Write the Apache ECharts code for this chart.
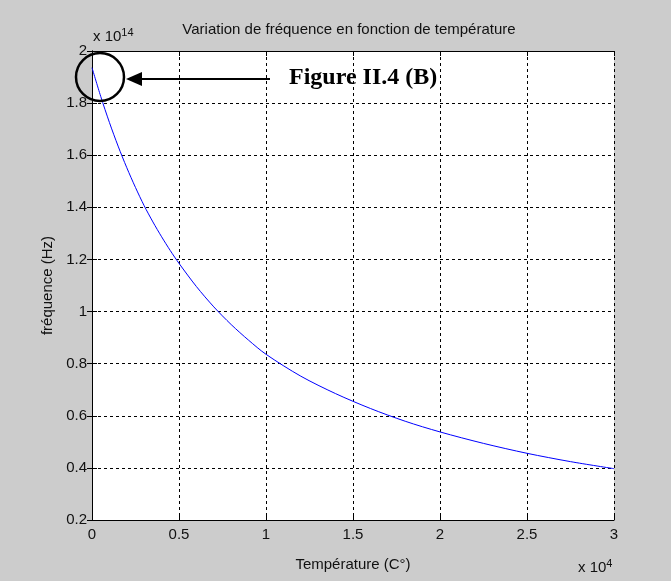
<!DOCTYPE html>
<html lang="fr" style="height: 100%">
<head>
    <meta charset="UTF-8">
    <title>Variation de fréquence en fonction de température</title>
    <script src="https://cdn.jsdelivr.net/npm/echarts@6/dist/echarts.min.js"></script>
</head>
<body style="height: 100%; margin: 0; background: #cccccc">
<div id="container" style="width: 671px; height: 581px"></div>
<script type="text/javascript">
    // température (x 10^4) et fréquence (x 10^14 Hz)
    var temperature = [0, 0.05, 0.1, 0.15, 0.2, 0.25, 0.3, 0.35, 0.4, 0.45, 0.5, 0.6, 0.7, 0.8, 0.9, 1.0, 1.2, 1.4, 1.6, 1.8, 2.0, 2.25, 2.5, 2.75, 3.0];
    var frequence = [1.936, 1.826, 1.726, 1.635, 1.552, 1.476, 1.406, 1.344, 1.287, 1.234, 1.185, 1.096, 1.018, 0.95, 0.89, 0.836, 0.752, 0.685, 0.628, 0.579, 0.538, 0.494, 0.456, 0.424, 0.397];

    var xTicks = [0, 3, 0.5];      // min, max, pas
    var yTicks = [0.2, 2, 0.2];

    var font = "'Liberation Sans', Arial, sans-serif";

    window.onload = function () {
        var dom = document.getElementById("container");
        var myChart = echarts.init(dom);

        var points = [];
        for (var i = 0; i < temperature.length; i++) {
            points.push([temperature[i], frequence[i]]);
        }

        var lineStyle = {color: '#000', width: 1};
        var option = {
            backgroundColor: '#cccccc',
            animation: false,
            title: {
                text: 'Variation de fréquence en fonction de température',
                left: 344, top: 17,
                textAlign: 'center',
                textStyle: {fontFamily: font, fontSize: 15, fontWeight: 'normal', color: '#111'}
            },
            grid: {left: 92, right: 57, top: 51, bottom: 61, show: true, backgroundColor: '#fff', borderWidth: 0},
            xAxis: [{
                type: 'value', min: xTicks[0], max: xTicks[1], interval: xTicks[2],
                name: 'Température (C°)', nameLocation: 'middle', nameGap: 37,
                nameTextStyle: {fontFamily: font, fontSize: 15, color: '#111'},
                axisLine: {lineStyle: lineStyle},
                axisTick: {inside: true, length: 5, lineStyle: lineStyle},
                axisLabel: {fontFamily: font, fontSize: 15, color: '#111', margin: 7},
                splitLine: {show: true, lineStyle: {color: '#000', type: [3, 3], width: 1}}
            }, {
                type: 'value', position: 'top', min: xTicks[0], max: xTicks[1], interval: xTicks[2],
                axisLine: {lineStyle: lineStyle},
                axisTick: {inside: true, length: 5, lineStyle: lineStyle},
                axisLabel: {show: false}, splitLine: {show: false}
            }],
            yAxis: [{
                type: 'value', min: yTicks[0], max: yTicks[1], interval: yTicks[2],
                name: 'fréquence (Hz)', nameLocation: 'middle', nameGap: 34,
                nameTextStyle: {fontFamily: font, fontSize: 15, color: '#111'},
                axisLine: {show: true, lineStyle: lineStyle},
                axisTick: {show: true, inside: true, length: 5, lineStyle: lineStyle},
                axisLabel: {fontFamily: font, fontSize: 15, color: '#111', margin: 5},
                splitLine: {show: true, lineStyle: {color: '#000', type: [3, 3], width: 1}}
            }, {
                type: 'value', position: 'right', min: yTicks[0], max: yTicks[1], interval: yTicks[2],
                axisLine: {show: true, lineStyle: lineStyle},
                axisTick: {show: true, inside: true, length: 5, lineStyle: lineStyle},
                axisLabel: {show: false}, splitLine: {show: false}
            }],
            series: [{
                type: 'line',
                data: points,
                smooth: 0.3,
                showSymbol: false,
                lineStyle: {color: '#0000ff', width: 1},
                z: 5
            }],
            graphic: [
                {
                    type: 'text', left: 93, top: 27,
                    style: {
                        text: 'x 10{s|14}',
                        font: '15px ' + font, fill: '#111',
                        rich: {s: {fontSize: 11, fontFamily: font, verticalAlign: 'top', padding: [0, 0, 8, 0]}}
                    }
                },
                {
                    type: 'text', left: 578, top: 558,
                    style: {
                        text: 'x 10{s|4}',
                        font: '15px ' + font, fill: '#111',
                        rich: {s: {fontSize: 11, fontFamily: font, verticalAlign: 'top', padding: [0, 0, 8, 0]}}
                    }
                },
                {
                    type: 'circle', z: 20,
                    shape: {cx: 100, cy: 77, r: 24},
                    style: {fill: 'none', stroke: '#000', lineWidth: 2.5}
                },
                {
                    type: 'line', z: 20,
                    shape: {x1: 138, y1: 79, x2: 270, y2: 79},
                    style: {stroke: '#000', lineWidth: 2}
                },
                {
                    type: 'polygon', z: 20,
                    shape: {points: [[126, 79], [142, 72], [142, 86]]},
                    style: {fill: '#000'}
                },
                {
                    type: 'text', left: 289, top: 66, z: 20,
                    style: {
                        text: 'Figure II.4 (B)',
                        font: 'bold 24px "Liberation Serif", "Times New Roman", serif',
                        fill: '#000'
                    }
                }
            ]
        };

        myChart.setOption(option);
    };
</script>
</body>
</html>
